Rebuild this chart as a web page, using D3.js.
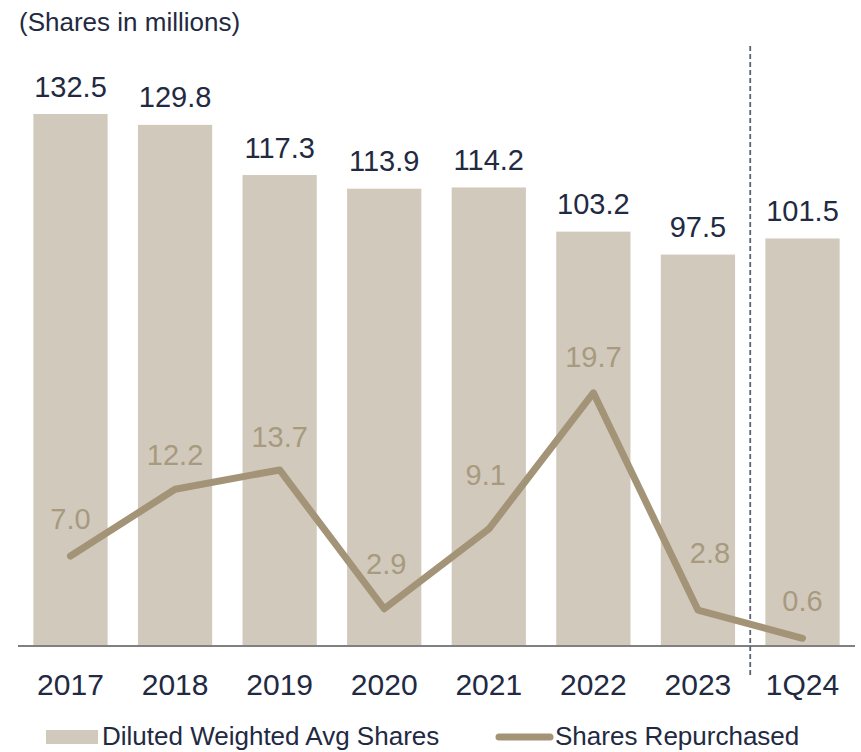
<!DOCTYPE html>
<html>
<head>
<meta charset="utf-8">
<script src="https://cdn.jsdelivr.net/npm/d3@7"></script>
<style>
  html, body { margin: 0; padding: 0; background: #ffffff; }
  svg { display: block; font-family: Arial, "Liberation Sans", sans-serif; }
</style>
</head>
<body>
<svg id="chart" width="861" height="752"></svg>
<script>
// Share count history (millions)
const periods = ["2017", "2018", "2019", "2020", "2021", "2022", "2023", "1Q24"];
const dilutedShares = [132.5, 129.8, 117.3, 113.9, 114.2, 103.2, 97.5, 101.5];
const sharesRepurchased = [7.0, 12.2, 13.7, 2.9, 9.1, 19.7, 2.8, 0.6];
const titleText = "(Shares in millions)";
const legendLabels = ["Diluted Weighted Avg Shares", "Shares Repurchased"];

const colors = {
  bar: "#d1c9bc",
  line: "#a39478",
  lineLabel: "#a79a7f",
  text: "#222a42",
  axis: "#808080",
  divider: "#5b6272"
};

const svg = d3.select("#chart");
const baseY = 646;

const x = d3.scaleBand()
  .domain(periods)
  .range([18, 855])
  .paddingInner(0.29)
  .paddingOuter(0.147);

// Bars and line use separate vertical scales sharing the same baseline
const yBar = d3.scaleLinear().domain([0, 150]).range([baseY, baseY - 150 * 4.015]);
const yLine = d3.scaleLinear().domain([0, 50]).range([baseY, baseY - 50 * 12.85]);

// Title
svg.append("text")
  .attr("x", 19)
  .attr("y", 31)
  .attr("font-size", 26)
  .attr("fill", colors.text)
  .text(titleText);

// Bars
svg.append("g").selectAll("rect")
  .data(periods)
  .join("rect")
  .attr("x", d => x(d))
  .attr("width", x.bandwidth())
  .attr("y", (d, i) => yBar(dilutedShares[i]))
  .attr("height", (d, i) => baseY - yBar(dilutedShares[i]))
  .attr("fill", colors.bar);

// Bar value labels
svg.append("g").selectAll("text")
  .data(periods)
  .join("text")
  .attr("x", d => x(d) + x.bandwidth() / 2)
  .attr("y", (d, i) => yBar(dilutedShares[i]) - 17.5)
  .attr("text-anchor", "middle")
  .attr("font-size", 29)
  .attr("fill", colors.text)
  .text((d, i) => dilutedShares[i].toFixed(1));

// Baseline axis
const xAxis = d3.axisBottom(x).tickSize(0).tickPadding(0);
const axisG = svg.append("g")
  .attr("transform", `translate(0,${baseY})`)
  .call(xAxis);
axisG.select(".domain")
  .attr("d", `M18,0H855`)
  .attr("stroke", colors.axis)
  .attr("stroke-width", 2.2);
axisG.selectAll(".tick text")
  .attr("y", 49)
  .attr("dy", 0)
  .attr("font-size", 30)
  .attr("font-family", "Arial, 'Liberation Sans', sans-serif")
  .attr("fill", colors.text);

// Dashed divider between annual and quarterly periods
const lastYear = periods[periods.length - 2];
const gap = x.step() - x.bandwidth();
const divX = x(lastYear) + x.bandwidth() + gap / 2;
svg.append("line")
  .attr("x1", divX).attr("x2", divX)
  .attr("y1", 46).attr("y2", 678)
  .attr("stroke", colors.divider)
  .attr("stroke-width", 1.8)
  .attr("stroke-dasharray", "5,3");

// Repurchase line
const line = d3.line()
  .x((d, i) => x(periods[i]) + x.bandwidth() / 2)
  .y(d => yLine(d));

svg.append("path")
  .datum(sharesRepurchased)
  .attr("d", line)
  .attr("fill", "none")
  .attr("stroke", colors.line)
  .attr("stroke-width", 7)
  .attr("stroke-linejoin", "round")
  .attr("stroke-linecap", "round");

// Line value labels, placed clear of the path
const labelNudge = {
  "2017": [0, 27], "2018": [0, 24], "2019": [0, 23], "2020": [2, 35],
  "2021": [-3, 44], "2022": [0, 26], "2023": [12, 47], "1Q24": [0, 27]
};
svg.append("g").selectAll("text")
  .data(periods)
  .join("text")
  .attr("x", d => x(d) + x.bandwidth() / 2 + labelNudge[d][0])
  .attr("y", (d, i) => yLine(sharesRepurchased[i]) - labelNudge[d][1])
  .attr("text-anchor", "middle")
  .attr("font-size", 29)
  .attr("fill", colors.lineLabel)
  .text((d, i) => sharesRepurchased[i].toFixed(1));

// Legend
const legend = svg.append("g");
legend.append("rect")
  .attr("x", 46).attr("y", 730)
  .attr("width", 52).attr("height", 14)
  .attr("fill", colors.bar);
legend.append("text")
  .attr("x", 102).attr("y", 745)
  .attr("font-size", 26)
  .attr("fill", colors.text)
  .text(legendLabels[0]);
legend.append("line")
  .attr("x1", 499).attr("x2", 550)
  .attr("y1", 737).attr("y2", 737)
  .attr("stroke", colors.line)
  .attr("stroke-width", 7)
  .attr("stroke-linecap", "round");
legend.append("text")
  .attr("x", 555).attr("y", 745)
  .attr("font-size", 26)
  .attr("fill", colors.text)
  .text(legendLabels[1]);
</script>
</body>
</html>
